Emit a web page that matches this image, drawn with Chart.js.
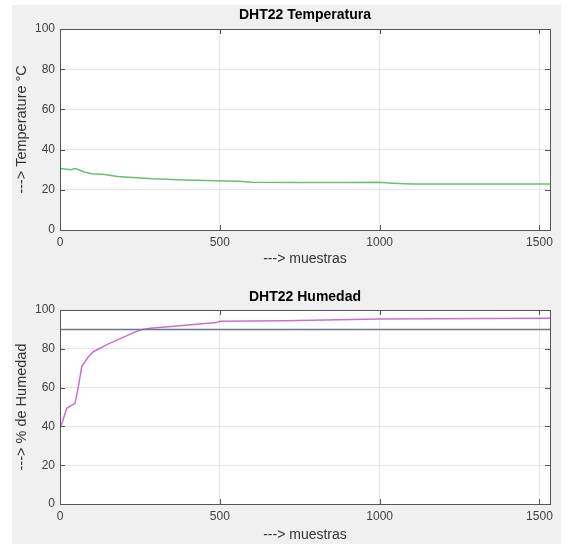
<!DOCTYPE html>
<html>
<head>
<meta charset="utf-8">
<script src="https://cdn.jsdelivr.net/npm/chart.js@4.4.0/dist/chart.umd.min.js"></script>
<style>
  body { margin: 0; background: #fff; }
  #fig { position: absolute; left: 12px; top: 5px; width: 549px; height: 539px; background: #f0f0f0; }
  canvas { position: absolute; left: 0; }
</style>
</head>
<body>
<div id="fig"></div>
<canvas id="temp" width="581" height="272" style="top:0px"></canvas>
<canvas id="hum" width="581" height="272" style="top:272px"></canvas>
<script>
// values (sample number -> reading)
var tempSamples = [0, 15, 35, 45, 55, 75, 100, 140, 180, 240, 290, 390, 490, 560, 600, 750, 900, 1000, 1040, 1100, 1533]
var tempValues  = [30.6, 30.3, 30.0, 30.6, 30.2, 28.9, 28.0, 27.6, 26.6, 26.0, 25.5, 24.9, 24.5, 24.3, 23.7, 23.6, 23.6, 23.7, 23.3, 22.9, 22.9]

var humSamples = [0, 5, 21, 47, 52, 58, 68, 87, 104, 125, 150, 178, 215, 250, 282, 338, 490, 500, 700, 1000, 1533]
var humValues  = [39.5, 41, 49.3, 51.9, 56, 61, 70.8, 75.5, 78.5, 80.3, 82.4, 84.5, 87.2, 89.7, 90.6, 91.4, 93.5, 94.2, 94.5, 95.3, 95.7]

var limitSamples = [0, 1533]
var limitValues  = [90, 90]

var xTicks = [0, 500, 1000, 1500]
var yTicks = [0, 20, 40, 60, 80, 100]
var xMax = 1533
var font = "'Liberation Sans', Arial, sans-serif"

function toPoints(xs, ys) {
  var pts = []
  for (var i = 0; i < xs.length; i++) {
    pts.push({x: xs[i], y: ys[i]})
  }
  return pts
}

function fixedTicks(list) {
  return function(scale) {
    scale.ticks = list.map(function(v) { return {value: v} })
  }
}

// white axes area, box and inward tick marks like the original
var boxPlugin = {
  id: "box",
  beforeDraw: function(chart) {
    var ctx = chart.ctx, a = chart.chartArea
    ctx.save()
    ctx.fillStyle = "#ffffff"
    ctx.fillRect(a.left, a.top, a.right - a.left, a.bottom - a.top)
    ctx.restore()
  },
  afterDraw: function(chart) {
    var ctx = chart.ctx, a = chart.chartArea
    var sx = chart.scales.x, sy = chart.scales.y
    ctx.save()
    ctx.strokeStyle = "#555555"
    ctx.lineWidth = 1
    ctx.beginPath()
    sx.ticks.forEach(function(t) {
      var px = Math.round(sx.getPixelForValue(t.value)) + 0.5
      ctx.moveTo(px, a.bottom); ctx.lineTo(px, a.bottom - 5)
      ctx.moveTo(px, a.top); ctx.lineTo(px, a.top + 5)
    })
    sy.ticks.forEach(function(t) {
      var py = Math.round(sy.getPixelForValue(t.value)) + 0.5
      ctx.moveTo(a.left, py); ctx.lineTo(a.left + 5, py)
      ctx.moveTo(a.right, py); ctx.lineTo(a.right - 5, py)
    })
    ctx.stroke()
    ctx.strokeRect(Math.round(a.left) + 0.5, Math.round(a.top) + 0.5,
      Math.round(a.right - a.left), Math.round(a.bottom - a.top))
    ctx.restore()
  }
}

function makeChart(id, title, titlePad, yLabel, xTitlePad, xHeight, datasets) {
  return new Chart(document.getElementById(id), {
    type: "scatter",
    data: { datasets: datasets },
    plugins: [boxPlugin],
    options: {
      responsive: false,
      animation: false,
      layout: { padding: { left: 0, right: 31, top: 0, bottom: 0 } },
      plugins: {
        legend: { display: false },
        tooltip: { enabled: false },
        title: {
          display: true,
          text: title,
          fullSize: false,
          color: "#000",
          font: { family: font, size: 14, weight: "bold" },
          padding: titlePad
        }
      },
      elements: { point: { radius: 0 }, line: { tension: 0 } },
      scales: {
        x: {
          type: "linear",
          min: 0,
          max: xMax,
          border: { display: false },
          grid: { color: "#e6e6e6", drawTicks: false },
          afterBuildTicks: fixedTicks(xTicks),
          ticks: { padding: 5, color: "#404040", font: { family: font, size: 12 },
            callback: function(v) { return String(v) } },
          title: { display: true, text: "---> muestras", color: "#333",
            font: { family: font, size: 14 }, padding: { top: 0, bottom: xTitlePad } },
          afterFit: function(s) { s.height = xHeight }
        },
        y: {
          min: 0,
          max: 100,
          border: { display: false },
          grid: { color: "#e6e6e6", drawTicks: false },
          afterBuildTicks: fixedTicks(yTicks),
          ticks: { padding: 5, color: "#404040", font: { family: font, size: 12 },
            callback: function(v) { return String(v) } },
          title: { display: true, text: yLabel, color: "#333",
            font: { family: font, size: 14.5 }, padding: { top: 13.3, bottom: 0 } },
          afterFit: function(s) { s.width = 60 }
        }
      }
    }
  })
}

makeChart("temp", "DHT22 Temperatura", { top: 6.6, bottom: 5.6 }, "---> Temperature °C", 4.6, 42, [{
  data: toPoints(tempSamples, tempValues),
  showLine: true,
  borderColor: "#66c266",
  borderWidth: 1.5
}])

makeChart("hum", "DHT22 Humedad", { top: 16.6, bottom: 4.6 }, "---> % de Humedad", 0.6, 40, [{
  data: toPoints(limitSamples, limitValues),
  showLine: true,
  borderColor: "#6b7390",
  borderWidth: 1.5
}, {
  data: toPoints(humSamples, humValues),
  showLine: true,
  borderColor: "#cc6fcc",
  borderWidth: 1.5
}])
</script>
</body>
</html>
